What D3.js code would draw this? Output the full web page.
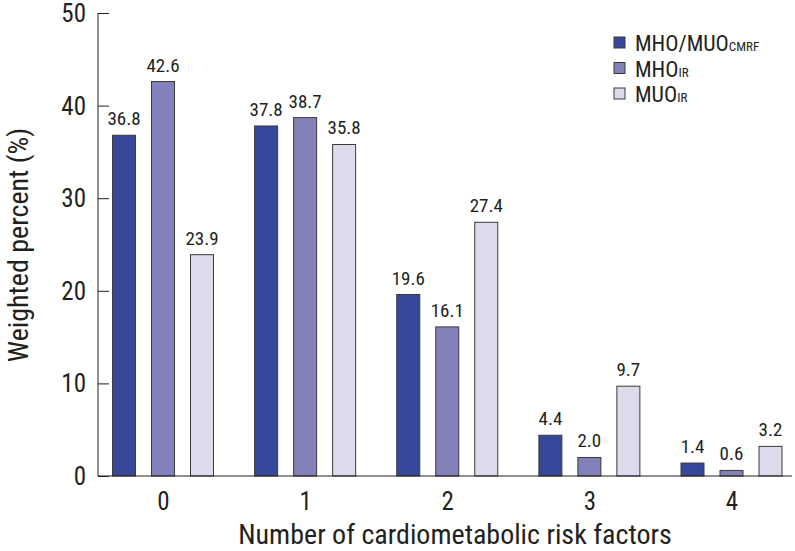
<!DOCTYPE html>
<html>
<head>
<meta charset="utf-8">
<script src="https://cdn.jsdelivr.net/npm/d3@7"></script>
<style>
  body { margin: 0; background: #fff; }
  text { font-family: "Liberation Sans Narrow", "Roboto Condensed", "Liberation Sans", sans-serif; fill: #231f20; }
</style>
</head>
<body>
<svg id="chart" width="795" height="551"></svg>
<script>
const categories = ["0", "1", "2", "3", "4"];
const seriesNames = ["cmrf", "mhoIr", "muoIr"];
const cmrfValues = [36.8, 37.8, 19.6, 4.4, 1.4];
const mhoIrValues = [42.6, 38.7, 16.1, 2.0, 0.6];
const muoIrValues = [23.9, 35.8, 27.4, 9.7, 3.2];
const yTicks = [0, 10, 20, 30, 40, 50];

const colors = { cmrf: "#37479a", mhoIr: "#8381b9", muoIr: "#dcdbec" };
const legendItems = [
  { key: "cmrf", main: "MHO/MUO", sub: "CMRF" },
  { key: "mhoIr", main: "MHO", sub: "IR" },
  { key: "muoIr", main: "MUO", sub: "IR" }
];

const rows = categories.map((c, i) => ({
  cat: c,
  cmrf: cmrfValues[i],
  mhoIr: mhoIrValues[i],
  muoIr: muoIrValues[i]
}));

const svg = d3.select("#chart");
const axisLeft = 98, axisRight = 792, yTop = 13, yBottom = 476;

const y = d3.scaleLinear().domain([0, 50]).range([yBottom, yTop]);
const x = d3.scalePoint().domain(categories).range([163, 731.5]);
const xInner = d3.scaleBand().domain(seriesNames).range([-50.5, 50.5]).paddingInner(0.41);

// bars
const groups = svg.append("g").selectAll("g")
  .data(rows)
  .join("g")
  .attr("transform", d => `translate(${x(d.cat)},0)`);

groups.selectAll("rect")
  .data(d => seriesNames.map(k => ({ key: k, value: d[k] })))
  .join("rect")
  .attr("x", d => xInner(d.key))
  .attr("y", d => y(d.value))
  .attr("width", xInner.bandwidth())
  .attr("height", d => yBottom - y(d.value))
  .attr("fill", d => colors[d.key])
  .attr("stroke", "#3a3a3a")
  .attr("stroke-width", 1);

groups.selectAll("text.val")
  .data(d => seriesNames.map(k => ({ key: k, value: d[k] })))
  .join("text")
  .attr("class", "val")
  .attr("x", d => xInner(d.key) + xInner.bandwidth() / 2)
  .attr("y", d => y(d.value) - 10)
  .attr("text-anchor", "middle")
  .attr("font-size", 19)
  .text(d => d.value.toFixed(1));

// y axis
const yAxis = svg.append("g")
  .attr("transform", `translate(${axisLeft},0)`)
  .call(d3.axisRight(y).tickValues(yTicks).tickSize(11).tickFormat(""));
yAxis.select(".domain").attr("d", `M0,${yTop}V${yBottom}`).attr("stroke", "#231f20");
yAxis.selectAll(".tick line").attr("stroke", "#231f20");

svg.append("g").selectAll("text")
  .data(yTicks)
  .join("text")
  .attr("x", 86)
  .attr("y", d => y(d))
  .attr("dy", "0.36em")
  .attr("text-anchor", "end")
  .attr("font-size", 25)
  .text(d => d);

// x axis
const xAxis = svg.append("g")
  .attr("transform", `translate(0,${yBottom})`)
  .call(d3.axisBottom(x).tickSize(0).tickPadding(16));
xAxis.select(".domain").attr("d", `M${axisLeft},0H${axisRight}`).attr("stroke", "#231f20");
xAxis.selectAll(".tick text").attr("font-size", 25).attr("dy", "0.71em");

svg.append("text")
  .attr("x", 455)
  .attr("y", 544)
  .attr("text-anchor", "middle")
  .attr("font-size", 28)
  .text("Number of cardiometabolic risk factors");

svg.append("text")
  .attr("transform", "translate(28,245) rotate(-90)")
  .attr("text-anchor", "middle")
  .attr("font-size", 28)
  .text("Weighted percent (%)");

// legend
const legend = svg.append("g").attr("transform", "translate(614,37)");
const li = legend.selectAll("g")
  .data(legendItems)
  .join("g")
  .attr("transform", (d, i) => `translate(0,${i * 25.5})`);
li.append("rect")
  .attr("width", 11).attr("height", 11)
  .attr("fill", d => colors[d.key])
  .attr("stroke", "#3a3a3a");
const lt = li.append("text")
  .attr("x", 21)
  .attr("y", 14)
  .attr("font-size", 22);
lt.append("tspan").text(d => d.main);
lt.append("tspan").attr("font-size", 13).text(d => d.sub);
</script>
</body>
</html>
